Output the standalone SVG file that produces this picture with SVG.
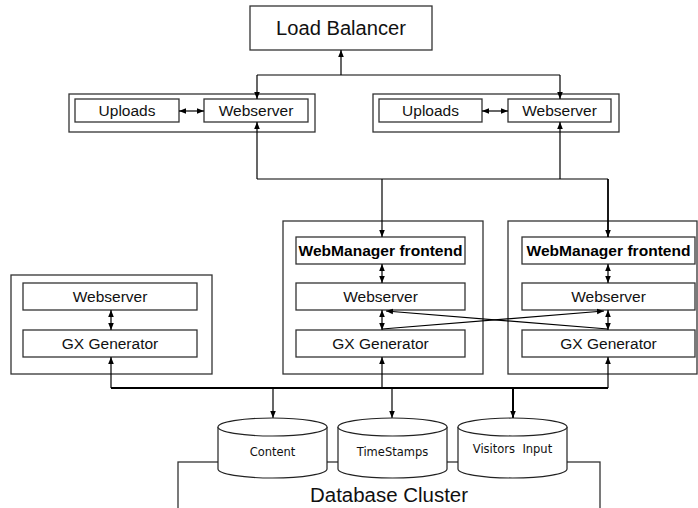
<svg xmlns="http://www.w3.org/2000/svg" width="698" height="508" viewBox="0 0 698 508">
<defs>
<marker id="ah" viewBox="0 0 10 10" refX="10" refY="5" markerWidth="7" markerHeight="7" markerUnits="userSpaceOnUse" orient="auto-start-reverse"><path d="M0,1 L10,5 L0,9 z" fill="#000"/></marker>
<style>
.box{fill:#fff;stroke:#333;stroke-width:1.3}
.outer{fill:none;stroke:#333;stroke-width:1.3}
.t{font-family:"Liberation Sans",Arial,sans-serif;font-size:15.5px;text-anchor:middle;fill:#111}
.tb{font-family:"Liberation Sans",Arial,sans-serif;font-size:15.5px;font-weight:bold;text-anchor:middle;fill:#000}
.tc{font-family:"DejaVu Sans",sans-serif;font-size:11.5px;text-anchor:middle;fill:#111}
.big{font-family:"Liberation Sans",Arial,sans-serif;font-size:20px;text-anchor:middle;fill:#111}
.c{fill:none;stroke:#000;stroke-width:1.2}
.ca{fill:none;stroke:#000;stroke-width:1.2;marker-end:url(#ah)}
.cd{fill:none;stroke:#000;stroke-width:1.2;marker-end:url(#ah);marker-start:url(#ah)}
.cyl{fill:#fff;stroke:#222;stroke-width:1.2}
</style>
</defs>

<g id="db-cluster">
<rect x="178" y="462" width="422" height="60" class="outer"/>
<text x="389" y="502" class="big" textLength="158" lengthAdjust="spacingAndGlyphs">Database Cluster</text>
</g>

<g id="load-balancer">
<rect x="250" y="6" width="182" height="44" class="box"/>
<text x="341" y="35" class="big" textLength="130" lengthAdjust="spacingAndGlyphs">Load Balancer</text>
</g>

<g id="web-left">
<rect x="69" y="94" width="246" height="38" class="outer"/>
<rect x="75" y="99" width="104" height="23" class="box"/>
<text x="127" y="116" class="t">Uploads</text>
<rect x="204" y="99" width="104" height="23" class="box"/>
<text x="256" y="116" class="t">Webserver</text>
</g>

<g id="web-right">
<rect x="373" y="94" width="246" height="38" class="outer"/>
<rect x="379" y="99" width="103" height="23" class="box"/>
<text x="430.5" y="116" class="t">Uploads</text>
<rect x="508" y="99" width="103" height="23" class="box"/>
<text x="559.5" y="116" class="t">Webserver</text>
</g>

<g id="gx-left">
<rect x="11" y="275" width="201" height="99" class="outer"/>
<rect x="23" y="283" width="174" height="27" class="box"/>
<text x="110" y="302" class="t">Webserver</text>
<rect x="23" y="330" width="174" height="27" class="box"/>
<text x="110" y="349" class="t">GX Generator</text>
</g>

<g id="wm-middle">
<rect x="283" y="221" width="200" height="153" class="outer"/>
<rect x="296" y="237" width="169" height="27" class="box"/>
<text x="380.5" y="256" class="tb" textLength="164" lengthAdjust="spacingAndGlyphs">WebManager frontend</text>
<rect x="296" y="283" width="169" height="27" class="box"/>
<text x="380.5" y="302" class="t">Webserver</text>
<rect x="296" y="330" width="169" height="27" class="box"/>
<text x="380.5" y="349" class="t">GX Generator</text>
</g>

<g id="wm-right">
<rect x="508" y="221" width="189" height="153" class="outer"/>
<rect x="522" y="237" width="173" height="27" class="box"/>
<text x="608.5" y="256" class="tb" textLength="164" lengthAdjust="spacingAndGlyphs">WebManager frontend</text>
<rect x="522" y="283" width="173" height="27" class="box"/>
<text x="608.5" y="302" class="t">Webserver</text>
<rect x="522" y="330" width="173" height="27" class="box"/>
<text x="608.5" y="349" class="t">GX Generator</text>
</g>

<g id="connectors">
<!-- load balancer -->
<path d="M341,75 V50" class="ca"/>
<path d="M257,75 H560" class="c"/>
<path d="M257,75 V99" class="ca"/>
<path d="M560,75 V99" class="ca"/>
<!-- uploads <-> webserver -->
<path d="M179,111 H204" class="cd"/>
<path d="M482,111 H508" class="cd"/>
<!-- webservers from below -->
<path d="M257,179 V122" class="ca"/>
<path d="M560,179 V122" class="ca"/>
<path d="M257,179 H608" class="c"/>
<path d="M382,179 V237" class="ca"/>
<path d="M608,179 V237" class="ca" style="stroke-width:1.8"/>
<!-- inside boxes -->
<path d="M382,264 V283" class="cd"/>
<path d="M608,264 V283" class="cd"/>
<path d="M382,310 V330" class="cd"/>
<path d="M608,310 V330" class="cd"/>
<path d="M111,310 V330" class="cd"/>
<!-- cross lines -->
<path d="M608,329 L386,311" class="ca"/>
<path d="M382,329 L604,311" class="ca"/>
<!-- bus -->
<path d="M111,388 H608" class="c" style="stroke-width:2"/>
<path d="M111,388 V357" class="ca"/>
<path d="M382,388 V357" class="ca"/>
<path d="M608,388 V357" class="ca"/>
<path d="M273,388 V418" class="ca"/>
<path d="M392,388 V418" class="ca"/>
<path d="M513,388 V418" class="ca" style="stroke-width:2"/>
</g>

<g id="db-content">
<path d="M218,427 V469 A54.5,9 0 0 0 327,469 V427" class="cyl"/>
<ellipse cx="272.5" cy="427" rx="54.5" ry="9" class="cyl"/>
<text x="272.5" y="456" class="tc">Content</text>
</g>
<g id="db-timestamps">
<path d="M338,427 V469 A54.5,9 0 0 0 447,469 V427" class="cyl"/>
<ellipse cx="392.5" cy="427" rx="54.5" ry="9" class="cyl"/>
<text x="392.5" y="456" class="tc">TimeStamps</text>
</g>
<g id="db-visitors">
<path d="M458,427 V469 A54.5,9 0 0 0 567,469 V427" class="cyl"/>
<ellipse cx="512.5" cy="427" rx="54.5" ry="9" class="cyl"/>
<text x="512.5" y="453" class="tc" xml:space="preserve">Visitors  Input</text>
</g>
</svg>
